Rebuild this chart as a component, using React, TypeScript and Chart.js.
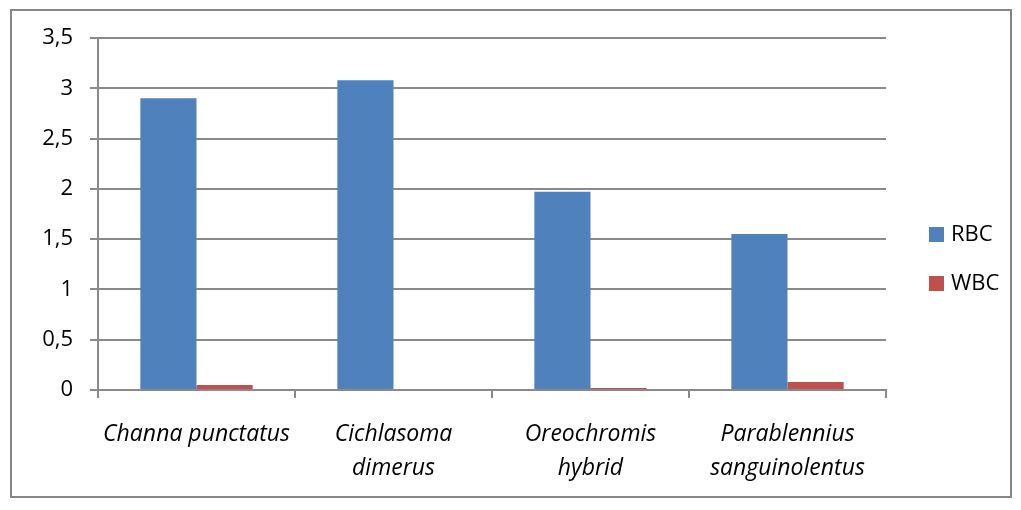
import React, { useEffect, useRef } from 'react';
import { Chart, registerables } from 'chart.js';

Chart.register(...registerables);

const categories: string[][] = [
  ['Channa punctatus'],
  ['Cichlasoma', 'dimerus'],
  ['Oreochromis', 'hybrid'],
  ['Parablennius', 'sanguinolentus'],
];
const seriesNames = ['RBC', 'WBC'];
const rbcValues = [2.9, 3.08, 1.97, 1.55];
const wbcValues = [0.05, 0, 0.02, 0.08];
const yTickValues = [0, 0.5, 1, 1.5, 2, 2.5, 3, 3.5];

const FONT = '"Open Sans", Calibri, Carlito, sans-serif';
const GRID = '#8a8a8a';

const sideLegend = {
  id: 'sideLegend',
  afterDraw(chart: any) {
    const ctx = chart.ctx;
    ctx.save();
    chart.data.datasets.forEach((ds: any, i: number) => {
      const x = 929;
      const y = 227 + i * 49;
      ctx.fillStyle = ds.backgroundColor;
      ctx.fillRect(x, y, 15, 15);
      ctx.fillStyle = '#000';
      ctx.font = `22px ${FONT}`;
      ctx.textBaseline = 'middle';
      ctx.textAlign = 'left';
      ctx.fillText(ds.label, 951, y + 8);
    });
    ctx.restore();
  },
};

export default function App() {
  const ref = useRef<HTMLCanvasElement | null>(null);
  useEffect(() => {
    if (!ref.current) return;
    const chart = new Chart(ref.current, {
      type: 'bar',
      data: {
        labels: categories,
        datasets: [
          { label: seriesNames[0], data: rbcValues, backgroundColor: '#4F81BD', categoryPercentage: 0.57, barPercentage: 1 },
          { label: seriesNames[1], data: wbcValues, backgroundColor: '#C0504D', categoryPercentage: 0.57, barPercentage: 1 },
        ],
      },
      options: {
        responsive: false,
        animation: false,
        devicePixelRatio: 1,
        layout: { padding: { left: 0, top: 38, right: 135, bottom: 0 } },
        plugins: { legend: { display: false }, tooltip: { enabled: false } },
        scales: {
          x: {
            grid: { drawOnChartArea: false, drawTicks: true, tickLength: 8, color: GRID, lineWidth: 2, offset: true },
            border: { color: GRID, width: 2 },
            ticks: {
              color: '#000',
              padding: 19,
              maxRotation: 0,
              autoSkip: false,
              font: { family: FONT, size: 23, style: 'italic', lineHeight: 34 / 23 },
            },
            afterFit: (s: any) => { s.height = 120; },
          },
          y: {
            min: 0,
            max: 3.5,
            afterBuildTicks: (s: any) => { s.ticks = yTickValues.map((v) => ({ value: v })); },
            grid: { color: GRID, lineWidth: 2, drawTicks: true, tickLength: 8 },
            border: { color: GRID, width: 2 },
            ticks: {
              color: '#000',
              padding: 17,
              font: { family: FONT, size: 22 },
              callback: (v: any) => String(v).replace('.', ','),
            },
            afterFit: (s: any) => { s.width = 98; },
          },
        },
      },
      plugins: [sideLegend],
    });
    return () => chart.destroy();
  }, []);
  return (
    <>
      <div style={{ position: 'absolute', left: 10, top: 9, width: 1002, height: 489, border: '2px solid #868686', boxSizing: 'border-box' }} />
      <canvas ref={ref} width={1021} height={510} style={{ position: 'absolute', left: 0, top: 0, width: 1021, height: 510 }} />
    </>
  );
}
